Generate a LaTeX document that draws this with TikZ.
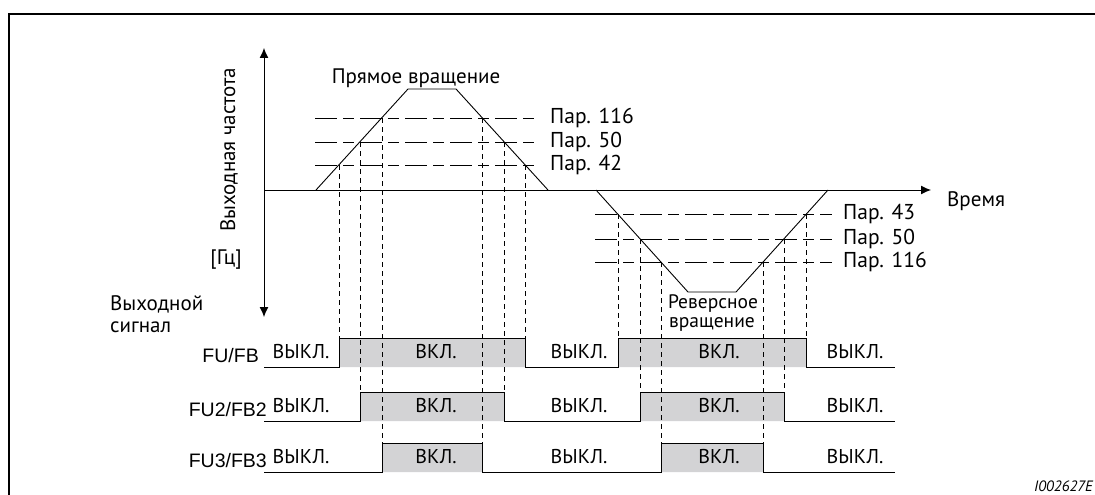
\documentclass[tikz,border=0pt]{standalone}
\usepackage{fontspec}
\setmainfont{PT Sans}
\newfontfamily\arialfont{Liberation Sans}
\usetikzlibrary{arrows.meta}
\definecolor{onfill}{RGB}{211,211,213}
\tikzset{
  level/.style={dash pattern=on 22pt off 6pt on 11pt off 6pt, line width=0.9pt},
  drop/.style={dash pattern=on 5pt off 4pt, line width=0.8pt},
  sig/.style={line width=1pt},
  parlabel/.style={anchor=base west, inner sep=0pt, font=\fontsize{21.5}{25}\selectfont},
  statetext/.style={anchor=base, inner sep=0pt, font=\fontsize{20}{24}\selectfont},
  rowname/.style={anchor=base east, inner sep=0pt, font=\arialfont\fontsize{19.5}{24}\selectfont},
  axislabel/.style={inner sep=0pt, font=\fontsize{21}{24}\selectfont},
}
\begin{document}
\begin{tikzpicture}[x=1pt, y=-1pt, >={Latex[length=10pt,width=9pt]}]
  \useasboundingbox (0,0) rectangle (1095,495);
  \draw[line width=2.2pt] (9,495) -- (9,14) -- (1095,14);
  % axes
  \draw[<->, line width=1pt] (264,48) -- (264,317);
  \draw[->, line width=1pt] (264,190) -- (931,190);
  \node[axislabel, anchor=base west] (time) at (947,206) {Время};
  \node[axislabel, rotate=90] (freq) at (229,150) {Выходная частота};
  \node[axislabel] (unit) at (226,260) {[Гц]};
  \node[axislabel, anchor=base west] (outa) at (110,310) {Выходной};
  \node[axislabel, anchor=base west] (outb) at (110,332) {сигнал};
  % gray on-state bands
  \foreach \hi/\a/\b/\c/\d in {338/339/525/618/806, 392/360/504/640/784, 443/382/482/661/763}
    \fill[onfill] (\a,\hi) rectangle (\b,\hi+29) (\c,\hi) rectangle (\d,\hi+29);
  % frequency curve
  \draw[line width=0.9pt] (316,190) -- (408,89) -- (456,89) -- (548,190);
  \draw[line width=0.9pt] (596,190) -- (688,292) -- (736,292) -- (828,190);
  \node[anchor=base, inner sep=0pt, font=\fontsize{21}{24}\selectfont] (fwdrot) at (416,84) {Прямое вращение};
  \node[anchor=base, inner sep=0pt, font=\fontsize{19.5}{22}\selectfont] (revrota) at (713,308) {Реверсное};
  \node[anchor=base, inner sep=0pt, font=\fontsize{19.5}{22}\selectfont] (revrotb) at (712,327) {вращение};
  \foreach \y/\t in {118/116, 142/50, 165/42} {
    \draw[level] (315,\y) -- (537,\y);
    \node[parlabel] (fwd\t) at (550,\y+5) {Пар. \t};
  }
  \foreach \y/\t in {214/43, 239/50, 262/116} {
    \draw[level] (595,\y) -- (832,\y);
    \node[parlabel] (rev\t) at (843,\y+5) {Пар. \t};
  }
  \foreach \x/\ya/\yb in {339/165/338, 360/142/392, 382/118/443, 482/118/443, 504/142/392, 525/165/338,
                          618/214/338, 640/239/392, 661/262/443, 763/262/443, 784/239/392, 806/214/338}
    \draw[drop] (\x,\ya) -- (\x,\yb);
  % output signals
  \foreach \hi/\a/\b/\c/\d/\r in {338/339/525/618/806/1, 392/360/504/640/784/2, 443/382/482/661/763/3} {
    \draw[sig] (264,\hi+29) -- (\a,\hi+29) -- (\a,\hi) -- (\b,\hi) -- (\b,\hi+29) -- (\c,\hi+29)
      -- (\c,\hi) -- (\d,\hi) -- (\d,\hi+29) -- (895,\hi+29);
    \node[statetext] (offa\r) at (301,\hi+20) {ВЫКЛ.};
    \node[statetext] (ona\r) at (436,\hi+20) {ВКЛ.};
    \node[statetext] (offb\r) at (579,\hi+20) {ВЫКЛ.};
    \node[statetext] (onb\r) at (719,\hi+20) {ВКЛ.};
    \node[statetext] (offc\r) at (855,\hi+20) {ВЫКЛ.};
  }
  \node[rowname] (row1) at (259,362) {FU/FB};
  \node[rowname] (row2) at (267,416) {FU2/FB2};
  \node[rowname] (row3) at (267,467) {FU3/FB3};
  \node[anchor=base east, inner sep=0pt, font=\itshape\fontsize{15}{18}\selectfont] (figid) at (1093,491) {I002627E};
\end{tikzpicture}
\end{document}
